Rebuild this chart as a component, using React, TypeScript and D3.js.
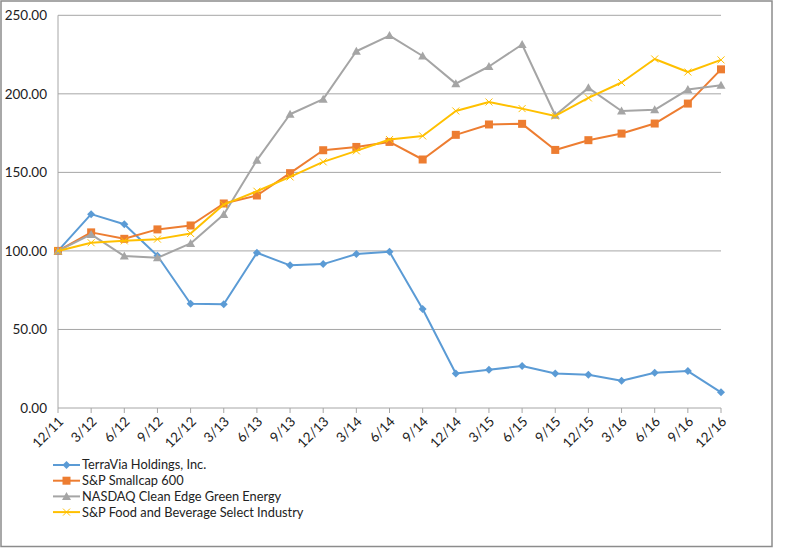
import React from "react"
import * as d3 from "d3"

const quarters = [
  "12/11", "3/12", "6/12", "9/12", "12/12", "3/13", "6/13", "9/13", "12/13", "3/14", "6/14",
  "9/14", "12/14", "3/15", "6/15", "9/15", "12/15", "3/16", "6/16", "9/16", "12/16",
]

const terraVia = [100, 123.4, 117, 96.9, 66.4, 66, 98.8, 90.8, 91.6, 98, 99.4, 63, 22, 24.4, 26.7, 22, 21.2, 17.4, 22.5, 23.5, 10]
const smallcap = [100, 111.8, 107.7, 113.7, 116.2, 130.2, 135.3, 149.5, 164.1, 166.2, 169.4, 158.2, 173.9, 180.5, 180.9, 164.3, 170.5, 174.7, 181.1, 193.8, 215.6]
const nasdaqClean = [100, 110.5, 96.7, 95.6, 104.8, 123.2, 157.8, 187, 196.6, 227.1, 237.1, 224.1, 206.5, 217.4, 231.4, 186.4, 203.8, 189.1, 189.8, 202.7, 205.5]
const foodBev = [100, 105.2, 106.4, 107.5, 111.1, 129.5, 138, 147.1, 156.7, 163.7, 170.9, 173.2, 189.1, 194.8, 190.6, 185.9, 197.4, 207.2, 222.2, 213.9, 221.6]

const yTicks = [0, 50, 100, 150, 200, 250]

type Marker = "diamond" | "square" | "triangle" | "cross"

interface Series {
  name: string
  values: number[]
  color: string
  marker: Marker
}

const seriesList: Series[] = [
  { name: "TerraVia Holdings, Inc.", values: terraVia, color: "#5B9BD5", marker: "diamond" },
  { name: "S&P Smallcap 600", values: smallcap, color: "#ED7D31", marker: "square" },
  { name: "NASDAQ Clean Edge Green Energy", values: nasdaqClean, color: "#A5A5A5", marker: "triangle" },
  { name: "S&P Food and Beverage Select Industry", values: foodBev, color: "#FFC000", marker: "cross" },
]

const font = "Lato, 'Open Sans', sans-serif"

// draw a marker centred on (x, y)
const MarkerShape = ({ type, x, y, color }: { type: Marker; x: number; y: number; color: string }) => {
  if (type === "diamond") {
    return <path d={`M${x},${y - 4}L${x + 4},${y}L${x},${y + 4}L${x - 4},${y}Z`} fill={color} />
  }
  if (type === "square") {
    return <rect x={x - 4} y={y - 4} width={8} height={8} fill={color} />
  }
  if (type === "triangle") {
    return <path d={`M${x},${y - 4.5}L${x + 4.5},${y + 3.5}L${x - 4.5},${y + 3.5}Z`} fill={color} />
  }
  return (
    <path d={`M${x - 3.5},${y - 3.5}L${x + 3.5},${y + 3.5}M${x + 3.5},${y - 3.5}L${x - 3.5},${y + 3.5}`} stroke={color} strokeWidth={1} fill="none" />
  )
}

const App: React.FC = () => {
  const width = 804
  const height = 548
  const left = 58
  const right = 721
  const top = 15.3
  const bottom = 408

  const x = d3.scalePoint<string>().domain(quarters).range([left, right])
  const y = d3.scaleLinear().domain([0, 250]).range([bottom, top])

  const line = d3
    .line<number>()
    .x((_, i) => x(quarters[i]) ?? 0)
    .y((d) => y(d))

  return (
    <div style={{ position: "fixed", left: 0, top: 0 }}>
      <svg width={width} height={height} style={{ display: "block", background: "#fff" }}>
        {/* outer frame */}
        <rect x={1} y={1} width={771} height={545.5} fill="none" stroke="#8c8c8c" strokeWidth={1.5} />

        {/* grid lines */}
        {yTicks.filter((t) => t > 0).map((t) => (
          <line key={t} x1={left} x2={right} y1={y(t)} y2={y(t)} stroke="#a6a6a6" strokeWidth={1} />
        ))}

        {/* y labels */}
        {yTicks.map((t) => (
          <text key={t} x={left - 11} y={y(t)} dy="0.35em" textAnchor="end" fontFamily={font} fontSize={13.5} fill="#222">
            {t.toFixed(2)}
          </text>
        ))}

        {/* axes */}
        <line x1={left} x2={left} y1={top} y2={bottom} stroke="#a6a6a6" strokeWidth={1} />
        <line x1={left} x2={right} y1={bottom} y2={bottom} stroke="#a6a6a6" strokeWidth={1} />
        {quarters.map((q) => (
          <line key={q} x1={x(q)} x2={x(q)} y1={bottom} y2={bottom + 5} stroke="#a6a6a6" strokeWidth={1} />
        ))}

        {/* x labels */}
        {quarters.map((q) => (
          <text
            key={q}
            transform={`translate(${(x(q) ?? 0) + 3},${bottom + 11}) rotate(-45)`}
            textAnchor="end"
            dy="0.35em"
            fontFamily={font}
            fontSize={13.5}
            fill="#222"
          >
            {q}
          </text>
        ))}

        {/* series */}
        {seriesList.map((s) => (
          <g key={s.name}>
            <path d={line(s.values) ?? ""} fill="none" stroke={s.color} strokeWidth={2} strokeLinejoin="round" />
            {s.values.map((v, i) => (
              <MarkerShape key={i} type={s.marker} x={x(quarters[i]) ?? 0} y={y(v)} color={s.color} />
            ))}
          </g>
        ))}

        {/* legend */}
        {seriesList.map((s, i) => {
          const ly = 465 + i * 15.7
          return (
            <g key={s.name}>
              <line x1={53} x2={80} y1={ly} y2={ly} stroke={s.color} strokeWidth={2} />
              <MarkerShape type={s.marker} x={66.5} y={ly} color={s.color} />
              <text x={82} y={ly} dy="0.35em" fontFamily={font} fontSize={12.8} fill="#222">
                {s.name}
              </text>
            </g>
          )
        })}
      </svg>
    </div>
  )
}

export default App
